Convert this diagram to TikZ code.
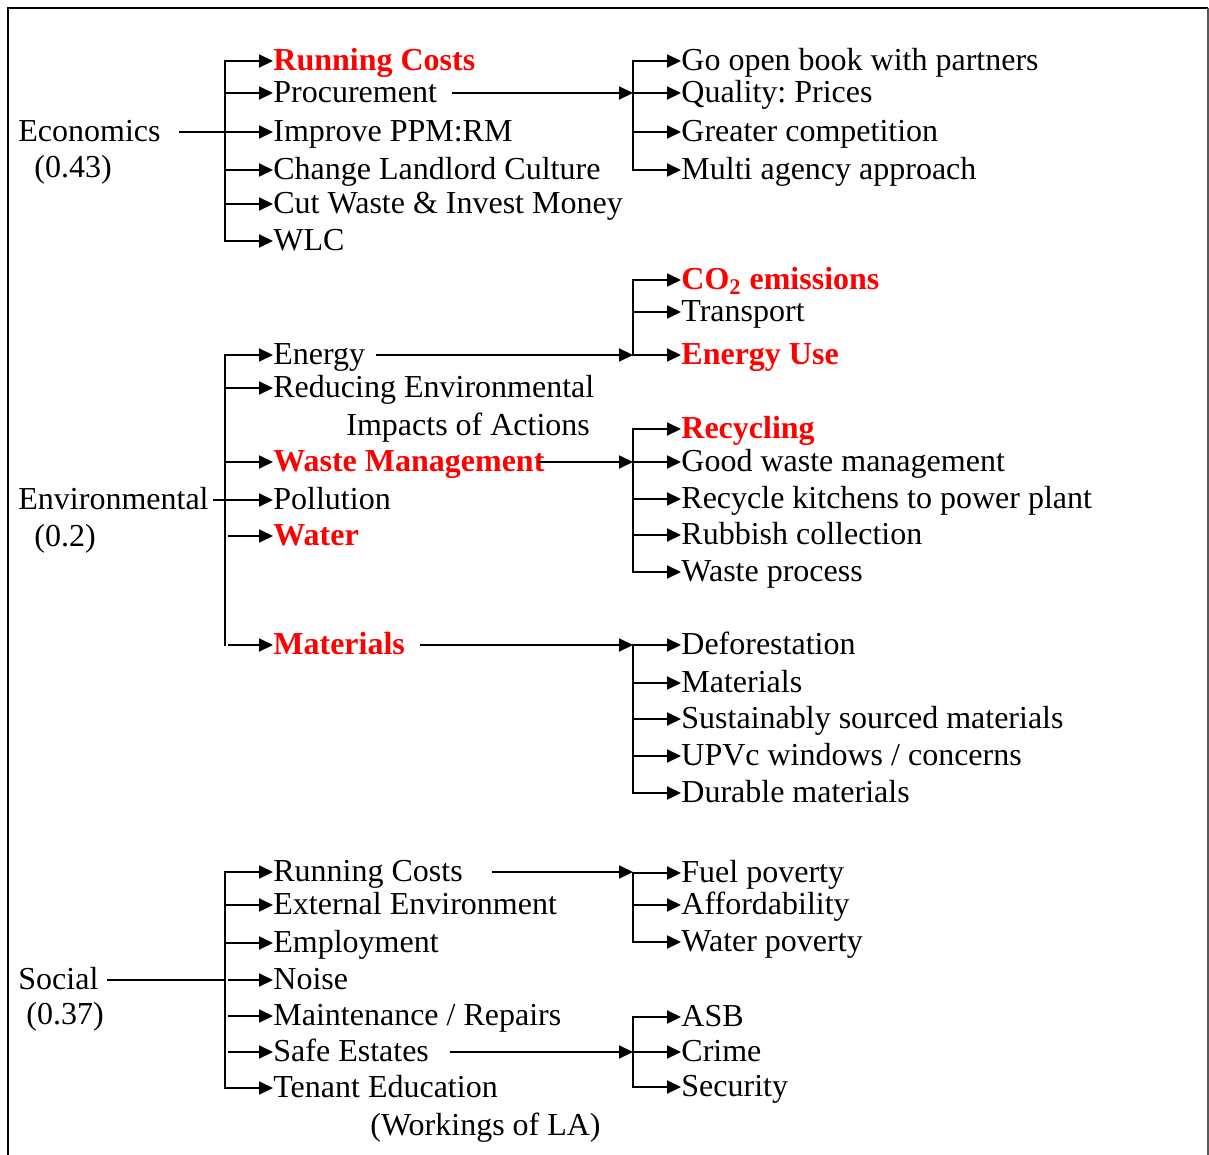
\documentclass[tikz,border=0pt]{standalone}
\usepackage{fontspec}
\setmainfont{Liberation Serif}
\usepackage{tikz}
\usetikzlibrary{arrows.meta}
\frenchspacing
\definecolor{HotRed}{RGB}{255,0,0}
\newcommand{\boxfont}{\fontsize{16pt}{18pt}\selectfont}
\tikzset{
  lbl/.style={anchor=west,inner sep=0pt,text height=12.5pt,text depth=3pt,
              font=\boxfont},
  hot/.style={lbl,text=HotRed,font=\boxfont\bfseries},
  arr/.style={-{Triangle[length=7pt,width=6.5pt]},line width=1pt},
  bus/.style={line width=1pt,line cap=rect},
  feed/.style={line width=0.7pt},
}

\begin{document}
\begin{tikzpicture}[x=0.5pt,y=-0.5pt]
  \useasboundingbox (0,0) rectangle (1209,1155);
  % frame
  \draw[line width=1.2pt] (8,1155) -- (8,8) -- (1208,8);
  \draw[line width=0.8pt,black!65] (1208,8) -- (1208,1155);
  % bus columns
  \coordinate (lbus) at (225,0);
  \coordinate (lgap) at (228,0);
  \coordinate (rbus) at (633,0);

  % economics
  \node[lbl] (econ)  at (18,132) {Economics};
  \node[lbl] (econw) at (34,168) {(0.43)};
  \node[hot] (e1) at (273,61)  {Running Costs};
  \node[lbl] (e2) at (273,93)  {Procurement};
  \node[lbl] (e3) at (273,132) {Improve PPM:RM};
  \node[lbl] (e4) at (273,170) {Change Landlord Culture};
  \node[lbl] (e5) at (273,204) {Cut Waste \& Invest Money};
  \node[lbl] (e6) at (273,241) {WLC};
  \draw[feed] ([xshift=9pt]econ.east) -- (lbus |- econ.east);
  \draw[bus] (lbus |- e1.west) -- (lbus |- e6.west);
  \foreach \n in {e1,e2,e3,e4,e5,e6}
    \draw[arr] (lbus |- \n.west) -- (\n.west);
  % procurement
  \node[lbl] (p1) at (681,61)  {Go open book with partners};
  \node[lbl] (p2) at (681,93)  {Quality: Prices};
  \node[lbl] (p3) at (681,132) {Greater competition};
  \node[lbl] (p4) at (681,170) {Multi agency approach};
  \draw[arr] ([xshift=7.5pt]e2.east) -- (rbus |- e2.east);
  \draw[bus] (rbus |- p1.west) -- (rbus |- p4.west);
  \foreach \n in {p1,p2,p3,p4}
    \draw[arr] (rbus |- \n.west) -- (\n.west);

  % environmental
  \node[lbl] (env)  at (18,500) {Environmental};
  \node[lbl] (envw) at (34,537) {(0.2)};
  \node[lbl] (n1)  at (273,355) {Energy};
  \node[lbl] (n2)  at (273,388) {Reducing Environmental};
  \node[lbl] (n2b) at (346,426) {Impacts of Actions};
  \node[hot] (n3)  at (273,462) {Waste Management};
  \node[lbl] (n4)  at (273,500) {Pollution};
  \node[hot] (n5)  at (273,536) {Water};
  \node[hot] (n6)  at (273,645) {Materials};
  \draw[feed] ([xshift=2pt]env.east) -- (lbus |- env.east);
  \draw[bus] (lbus |- n1.west) -- (lbus |- n6.west);
  \foreach \n in {n1,n2,n3,n4}
    \draw[arr] (lbus |- \n.west) -- (\n.west);
  \foreach \n in {n5,n6}
    \draw[arr] (lgap |- \n.west) -- (\n.west);
  % energy
  \node[hot] (c1) at (681,280) {CO\textsubscript{2} emissions};
  \node[lbl] (c2) at (681,312) {Transport};
  \node[hot] (c3) at (681,355) {Energy Use};
  \draw[arr] ([xshift=5pt]n1.east) -- (rbus |- n1.east);
  \draw[bus] (rbus |- c1.west) -- (rbus |- c3.west);
  \foreach \n in {c1,c2,c3}
    \draw[arr] (rbus |- \n.west) -- (\n.west);
  % waste
  \node[hot] (w1) at (681,429) {Recycling};
  \node[lbl] (w2) at (681,462) {Good waste management};
  \node[lbl] (w3) at (681,499) {Recycle kitchens to power plant};
  \node[lbl] (w4) at (681,535) {Rubbish collection};
  \node[lbl] (w5) at (681,572) {Waste process};
  \draw[arr] ([xshift=-3.5pt]n3.east) -- (rbus |- n3.east);
  \draw[bus] (rbus |- w1.west) -- (rbus |- w5.west);
  \foreach \n in {w1,w2,w3,w4,w5}
    \draw[arr] (rbus |- \n.west) -- (\n.west);
  % materials
  \node[lbl] (m1) at (681,645) {Deforestation};
  \node[lbl] (m2) at (681,683) {Materials};
  \node[lbl] (m3) at (681,719) {Sustainably sourced materials};
  \node[lbl] (m4) at (681,756) {UPVc windows / concerns};
  \node[lbl] (m5) at (681,793) {Durable materials};
  \draw[arr] ([xshift=7.5pt]n6.east) -- (rbus |- n6.east);
  \draw[bus] (rbus |- m1.west) -- (rbus |- m5.west);
  \foreach \n in {m1,m2,m3,m4,m5}
    \draw[arr] (rbus |- \n.west) -- (\n.west);

  % social
  \node[lbl] (soc)  at (18,980)  {Social};
  \node[lbl] (socw) at (26,1015) {(0.37)};
  \node[lbl] (s1)  at (273,872)  {Running Costs};
  \node[lbl] (s2)  at (273,905)  {External Environment};
  \node[lbl] (s3)  at (273,943)  {Employment};
  \node[lbl] (s4)  at (273,980)  {Noise};
  \node[lbl] (s5)  at (273,1016) {Maintenance / Repairs};
  \node[lbl] (s6)  at (273,1052) {Safe Estates};
  \node[lbl] (s7)  at (273,1088) {Tenant Education};
  \node[lbl] (s7b) at (370,1126) {(Workings of LA)};
  \draw[feed] ([xshift=4pt]soc.east) -- (lbus |- soc.east);
  \draw[bus] (lbus |- s1.west) -- (lbus |- s7.west);
  \foreach \n in {s1,s2,s3,s7}
    \draw[arr] (lbus |- \n.west) -- (\n.west);
  \foreach \n in {s4,s5,s6}
    \draw[arr] (lgap |- \n.west) -- (\n.west);
  % running costs
  \node[lbl] (f1) at (681,873) {Fuel poverty};
  \node[lbl] (f2) at (681,905) {Affordability};
  \node[lbl] (f3) at (681,942) {Water poverty};
  \draw[arr] ([xshift=14.5pt]s1.east) -- (rbus |- s1.east);
  \draw[bus] (rbus |- f1.west) -- (rbus |- f3.west);
  \foreach \n in {f1,f2,f3}
    \draw[arr] (rbus |- \n.west) -- (\n.west);
  % safe estates
  \node[lbl] (a1) at (681,1017) {ASB};
  \node[lbl] (a2) at (681,1052) {Crime};
  \node[lbl] (a3) at (681,1087) {Security};
  \draw[arr] ([xshift=10.5pt]s6.east) -- (rbus |- s6.east);
  \draw[bus] (rbus |- a1.west) -- (rbus |- a3.west);
  \foreach \n in {a1,a2,a3}
    \draw[arr] (rbus |- \n.west) -- (\n.west);
\end{tikzpicture}
\end{document}
